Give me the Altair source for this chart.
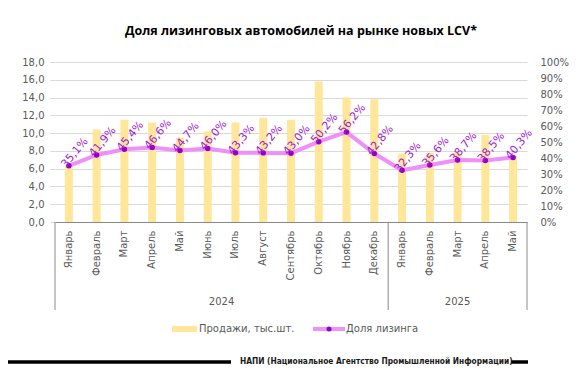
import altair as alt
import pandas as pd

months = ["Январь", "Февраль", "Март", "Апрель", "Май", "Июнь", "Июль", "Август",
          "Сентябрь", "Октябрь", "Ноябрь", "Декабрь",
          "Январь", "Февраль", "Март", "Апрель", "Май"]
years = ["2024"] * 12 + ["2025"] * 5
sales = [6.4, 10.4, 11.5, 11.2, 9.5, 10.2, 11.2, 11.7, 11.5, 15.8, 14.0, 13.8,
         7.7, 7.8, 7.8, 9.8, 7.4]
share = [35.1, 41.9, 45.4, 46.6, 44.7, 46.0, 43.3, 43.2, 43.0, 50.2, 56.2, 42.8,
         32.3, 35.6, 38.7, 38.5, 40.3]

title_text = "Доля лизинговых автомобилей на рынке новых LCV*"
legend_labels = ["Продажи, тыс.шт.", "Доля лизинга"]
footer_text = "НАПИ (Национальное Агентство Промышленной Информации)"
left_ticks = [0, 2, 4, 6, 8, 10, 12, 14, 16, 18]
right_ticks = [0, 10, 20, 30, 40, 50, 60, 70, 80, 90, 100]

keys = [f"{m}|{y}" for m, y in zip(months, years)]
df = pd.DataFrame({"key": keys, "month": months, "year": years,
                   "sales": sales, "share": share})

BAR = "#FFE699"
LINE = "#EE90F8"
DOT = "#9000CC"
LBL = "#A020D0"
TXT = "#595959"
FONT = "DejaVu Sans"

xscale = alt.Scale(domain=keys, paddingInner=0, paddingOuter=0)
x_axis = alt.Axis(title=None, labelExpr="split(datum.label, '|')[0]", labelAngle=270,
                  labelFont=FONT, labelFontSize=10, labelColor=TXT, labelPadding=8,
                  ticks=False, domainColor="#898989", grid=False, labelAlign="right",
                  labelBaseline="middle", labelOverlap=False)

bars = alt.Chart(df).mark_bar(size=8, color=BAR).encode(
    x=alt.X("key:N", scale=xscale, axis=x_axis, sort=keys),
    y=alt.Y("sales:Q", scale=alt.Scale(domain=[0, 18], nice=False),
            axis=alt.Axis(title=None, values=left_ticks,
                          labelExpr="replace(format(datum.value, '.1f'), '.', ',')",
                          labelFont=FONT, labelFontSize=10, labelColor=TXT,
                          tickColor="#D9D9D9", tickSize=5, labelPadding=6,
                          domain=False, gridColor="#D9D9D9", labelOverlap=False)),
)

yshare = alt.Y("share:Q", scale=alt.Scale(domain=[0, 100], nice=False),
               axis=alt.Axis(title=None, orient="right", values=right_ticks,
                             labelExpr="datum.value + '%'", labelFont=FONT,
                             labelFontSize=10, labelColor=TXT, ticks=False,
                             domain=False, grid=False, labelPadding=13,
                             labelOverlap=False))

share_layer = alt.layer(
    alt.Chart().mark_line(color=LINE, strokeWidth=4),
    alt.Chart().mark_circle(size=30, color=DOT, opacity=1),
    alt.Chart().transform_calculate(
        lbl="replace(format(datum.share, '.1f'), '.', ',') + '%'"
    ).mark_text(angle=310, align="center", baseline="middle", xOffset=6, yOffset=-13,
                font=FONT, fontSize=11, color=LBL).encode(text="lbl:N"),
    data=df,
).encode(x=alt.X("key:N", scale=xscale, sort=keys), y=yshare)

# year group separators and labels (second category level)
sep_a = alt.Chart(pd.DataFrame({"key": [keys[0], keys[12]]})).mark_rule(
    color="#898989", strokeWidth=1).encode(
    x=alt.X("key:N", scale=xscale, sort=keys, bandPosition=0),
    y=alt.value(160), y2=alt.value(248))
sep_b = alt.Chart(pd.DataFrame({"key": [keys[-1]]})).mark_rule(
    color="#898989", strokeWidth=1).encode(
    x=alt.X("key:N", scale=xscale, sort=keys, bandPosition=1),
    y=alt.value(160), y2=alt.value(248))
yr_a = alt.Chart(pd.DataFrame({"key": [keys[6]], "yr": [years[0]]})).mark_text(
    font=FONT, fontSize=10, color=TXT, baseline="middle").encode(
    x=alt.X("key:N", scale=xscale, sort=keys, bandPosition=0),
    y=alt.value(240), text="yr:N")
yr_b = alt.Chart(pd.DataFrame({"key": [keys[14]], "yr": [years[-1]]})).mark_text(
    font=FONT, fontSize=10, color=TXT, baseline="middle").encode(
    x=alt.X("key:N", scale=xscale, sort=keys, bandPosition=0.5),
    y=alt.value(240), text="yr:N")

# legend
one = pd.DataFrame({"a": [0]})
leg_rect = alt.Chart(one).mark_rect(color=BAR).encode(
    x=alt.value(117), x2=alt.value(142), y=alt.value(264), y2=alt.value(270))
leg_t1 = alt.Chart(pd.DataFrame({"t": [legend_labels[0]]})).mark_text(
    font=FONT, fontSize=10, color=TXT, align="left", baseline="middle").encode(
    x=alt.value(144), y=alt.value(267), text="t:N")
leg_line = alt.Chart(one).mark_rule(color=LINE, strokeWidth=4).encode(
    x=alt.value(258), x2=alt.value(290), y=alt.value(267))
leg_dot = alt.Chart(one).mark_circle(color=DOT, size=25, opacity=1).encode(
    x=alt.value(274), y=alt.value(267))
leg_t2 = alt.Chart(pd.DataFrame({"t": [legend_labels[1]]})).mark_text(
    font=FONT, fontSize=10, color=TXT, align="left", baseline="middle").encode(
    x=alt.value(291), y=alt.value(267), text="t:N")

# footer
foot_l1 = alt.Chart(one).mark_rule(color="black", strokeWidth=3.5).encode(
    x=alt.value(-49), x2=alt.value(176), y=alt.value(300))
foot_l2 = alt.Chart(one).mark_rule(color="black", strokeWidth=3.5).encode(
    x=alt.value(456), x2=alt.value(473), y=alt.value(300))
foot_t = alt.Chart(pd.DataFrame({"t": [footer_text]})).mark_text(
    font="DejaVu Sans Condensed", fontSize=8.3, fontWeight="bold", color="#1a1a1a",
    align="left", baseline="middle").encode(
    x=alt.value(185), y=alt.value(300), text="t:N")

chart = alt.layer(
    bars, share_layer, sep_a, sep_b, yr_a, yr_b,
    leg_rect, leg_t1, leg_line, leg_dot, leg_t2, foot_l1, foot_l2, foot_t
).resolve_scale(y="independent").properties(
    width=472, height=160,
    title=alt.TitleParams(title_text, anchor="middle", dx=10, offset=20,
                          font="Open Sans", fontSize=12.5, fontWeight="bold",
                          color="black"),
    autosize=alt.AutoSizeParams(type="none"),
    padding={"left": 47, "top": 54, "right": 45, "bottom": 146},
).configure_view(stroke=None)

chart.save("out.html", embed_options={"renderer": "svg", "actions": False})
